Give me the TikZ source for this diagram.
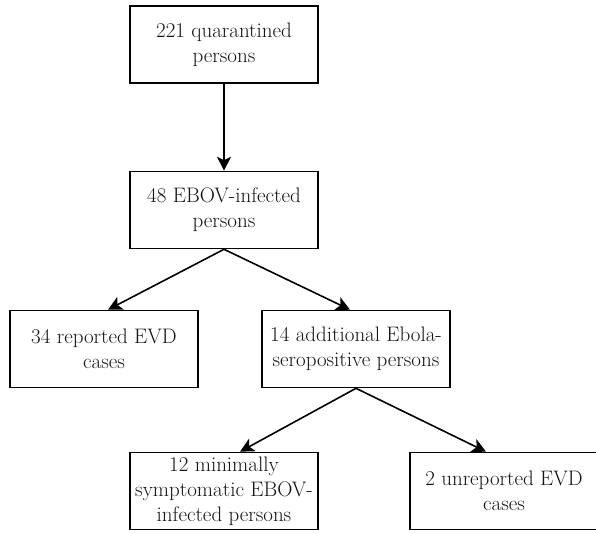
\documentclass[tikz,border=0pt]{standalone}
\usepackage{fontspec}
\usepackage{tikz}
\usetikzlibrary{shapes.geometric, arrows.meta}
\tikzstyle{group} = [rectangle, minimum width=188pt, minimum height=77pt, text centered, align=center, draw=black, line width=1.6pt, font=\fontsize{21}{25}\selectfont, text=black!92, inner sep=2pt]
\tikzstyle{arrow} = [line width=1.6pt,->,>={Stealth[length=14pt,width=14pt,inset=3.5pt]}]

\begin{document}
\begin{tikzpicture}[node distance=140pt]
      \useasboundingbox (0,0) rectangle (596pt,-534pt);

      \node (quarantined) [group] at (224pt,-44.5pt) {221 quarantined\\persons};
      \node (infected) [group, below of=quarantined, yshift=-25.5pt] {48 EBOV-infected\\persons};
      \node (reported) [group, below of=infected, xshift=-120pt, yshift=1pt] {34 reported EVD\\cases};
      \node (seropos) [group, right of=reported, xshift=112pt] {14 additional Ebola-\\seropositive persons};
      \node (minimal) [group, below of=seropos, xshift=-132pt, yshift=-2pt] {12 minimally\\symptomatic EBOV-\\infected persons};
      \node (unreported) [group, right of=minimal, xshift=140pt] {2 unreported EVD\\cases};

      % Arrows
      \draw [arrow] (quarantined) -- (infected);
      \draw [arrow] (infected.south) -- ([xshift=4pt]reported.north);
      \draw [arrow] (infected.south) -- ([xshift=-6pt]seropos.north);
      \draw [arrow] (seropos.south) -- ([xshift=16pt]minimal.north);
      \draw [arrow] (seropos.south) -- ([xshift=-18pt]unreported.north);

\end{tikzpicture}
\end{document}
